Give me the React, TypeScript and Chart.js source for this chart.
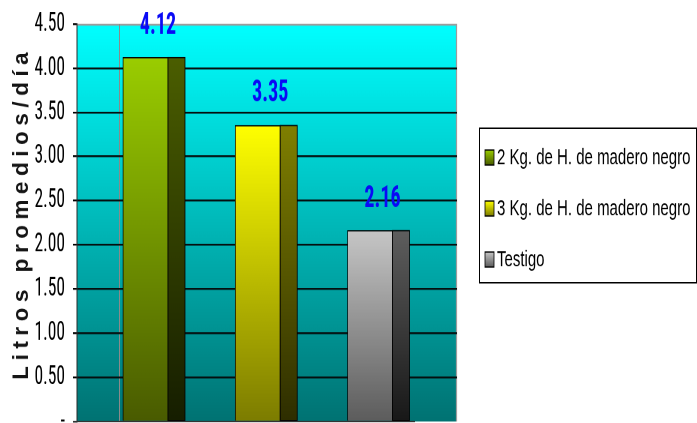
import React, { useEffect, useRef } from 'react';
import { Chart, registerables } from 'chart.js';

Chart.register(...registerables);

// ---- data ----
const seriesNames = ['2 Kg. de H. de madero negro', '3 Kg. de H. de madero negro', 'Testigo'];
const seriesValues = [4.12, 3.35, 2.16];
const seriesPositions = [0, 1, 2];
const yTickValues = [0, 0.5, 1, 1.5, 2, 2.5, 3, 3.5, 4, 4.5];
const yAxisTitle = 'Litros promedios/día';

// ---- styles ----
const frontTop = ['#9ACD00', '#FFFF00', '#C6C6C6'];
const frontBottom = ['#495B00', '#7C7C00', '#5C5C5C'];
const sideTop = ['#4B5E00', '#7F7F00', '#5E5E5E'];
const sideBottom = ['#161E00', '#2E2E00', '#181818'];

const WIDTH = 697;
const STRETCH = 1.5;
const HEIGHT = 282; // drawn height, stretched to 423 on screen
const SIDE = 17;
const DEPTH = 42;
const NARROW = "'Liberation Sans Narrow', 'Arial Narrow', 'Roboto Condensed', sans-serif";
const SANS = "'Liberation Sans', Arial, sans-serif";

function vGrad(ctx: CanvasRenderingContext2D, y0: number, y1: number, c0: string, c1: string) {
  if (!isFinite(y0) || !isFinite(y1)) return c0;
  const g = ctx.createLinearGradient(0, y0, 0, y1 === y0 ? y0 + 1 : y1);
  g.addColorStop(0, c0);
  g.addColorStop(1, c1);
  return g;
}

const wallPlugin = {
  id: 'wall',
  beforeDraw(chart: any) {
    const { ctx, chartArea } = chart;
    if (!chartArea) return;
    const { left, top, right, bottom } = chartArea;
    ctx.save();
    ctx.fillStyle = vGrad(ctx, top, bottom, '#00FFFF', '#007272');
    ctx.fillRect(left, top, right - left, bottom - top);
    ctx.strokeStyle = '#9c9c9c';
    ctx.lineWidth = 1.2;
    ctx.beginPath();
    ctx.moveTo(left, top + 0.5);
    ctx.lineTo(right - 0.5, top + 0.5);
    ctx.lineTo(right - 0.5, bottom);
    ctx.stroke();
    ctx.strokeStyle = '#8a8a8a';
    ctx.lineWidth = 1;
    ctx.beginPath();
    ctx.moveTo(left + DEPTH + 0.5, top);
    ctx.lineTo(left + DEPTH + 0.5, bottom);
    ctx.stroke();
    ctx.restore();
  },
  afterDraw(chart: any) {
    const { ctx, chartArea } = chart;
    if (!chartArea) return;
    const { left, right, bottom } = chartArea;
    ctx.save();
    ctx.strokeStyle = '#333';
    ctx.lineWidth = 1;
    ctx.beginPath();
    ctx.moveTo(left - 4, bottom);
    ctx.lineTo(right - DEPTH, bottom);
    ctx.stroke();
    ctx.restore();
  },
};

// y-axis title: condensed bold letters with wide spacing, as in the original
const titlePlugin = {
  id: 'yTitle',
  afterDraw(chart: any) {
    const { ctx, chartArea } = chart;
    if (!chartArea) return;
    const squeeze = 0.68;
    const gap = 3.7;
    ctx.save();
    ctx.font = `bold 22px ${SANS}`;
    ctx.fillStyle = '#151515';
    ctx.textBaseline = 'alphabetic';
    ctx.textAlign = 'left';
    const chars = Array.from(yAxisTitle);
    const widths = chars.map((ch) => ctx.measureText(ch).width * squeeze);
    const total = widths.reduce((a, b) => a + b, 0) + gap * (chars.length - 1);
    const cy = (chartArea.top + chartArea.bottom) / 2 - 4.5;
    ctx.translate(28, cy);
    ctx.rotate(-Math.PI / 2);
    let pos = -total / 2;
    chars.forEach((ch, k) => {
      ctx.save();
      ctx.translate(pos, 0);
      ctx.scale(squeeze, 1);
      ctx.fillText(ch, 0, 0);
      ctx.restore();
      pos += widths[k] + gap;
    });
    ctx.restore();
  },
};

const barSidePlugin = {
  id: 'barSide',
  afterDatasetsDraw(chart: any) {
    const { ctx } = chart;
    ctx.save();
    chart.data.datasets.forEach((ds: any, i: number) => {
      const meta = chart.getDatasetMeta(i);
      meta.data.forEach((el: any) => {
        const { x, y, base, width } = el.getProps(['x', 'y', 'base', 'width'], true);
        const x0 = x + width / 2;
        ctx.fillStyle = vGrad(ctx, y, base, sideTop[i], sideBottom[i]);
        ctx.fillRect(x0, y, SIDE, base - y);
        ctx.strokeStyle = '#000';
        ctx.lineWidth = 0.8;
        ctx.strokeRect(x0, y, SIDE, base - y);
        // value label
        ctx.fillStyle = '#0A0AF5';
        ctx.font = `bold 20px ${NARROW}`;
        ctx.textAlign = 'center';
        ctx.textBaseline = 'alphabetic';
        ctx.fillText(seriesValues[i].toFixed(2), x + 12.5, y - 16);
      });
    });
    ctx.restore();
  },
};

const legendPlugin = {
  id: 'boxLegend',
  afterDraw(chart: any) {
    const { ctx, chartArea } = chart;
    if (!chartArea) return;
    const bx = chartArea.right + 22;
    const by = 85.5;
    const bw = WIDTH - bx - 1;
    const bh = 103;
    ctx.save();
    ctx.fillStyle = '#fff';
    ctx.fillRect(bx, by, bw, bh);
    ctx.strokeStyle = '#000';
    ctx.lineWidth = 1;
    ctx.strokeRect(bx + 0.5, by, bw, bh);
    seriesNames.forEach((name, i) => {
      const cy = by + 19.5 + i * 34;
      ctx.fillStyle = vGrad(ctx, cy - 5, cy + 5, frontTop[i], frontBottom[i]);
      ctx.fillRect(bx + 6, cy - 5, 9, 10);
      ctx.strokeStyle = '#000';
      ctx.lineWidth = 0.8;
      ctx.strokeRect(bx + 6, cy - 5, 9, 10);
      ctx.fillStyle = '#000';
      ctx.font = `15px ${SANS}`;
      ctx.textAlign = 'left';
      ctx.textBaseline = 'middle';
      ctx.fillText(name, bx + 18, cy + 0.5);
    });
    ctx.restore();
  },
};

export default function App() {
  const ref = useRef<HTMLCanvasElement | null>(null);

  useEffect(() => {
    if (!ref.current) return;
    const chart = new Chart(ref.current, {
      type: 'bar',
      data: {
        datasets: seriesNames.map((name, i) => ({
          label: name,
          data: [{ x: seriesPositions[i], y: seriesValues[i] }],
          backgroundColor: (c: any) => {
            const ch = c.chart;
            const ys = ch.scales && ch.scales.y;
            if (!ys || !c.raw || !ch.chartArea) return frontTop[i];
            const top = ys.getPixelForValue(c.raw.y);
            const bot = ys.getPixelForValue(0);
            return vGrad(ch.ctx, top, bot, frontTop[i], frontBottom[i]);
          },
          borderColor: '#000',
          borderWidth: 0.8,
          barThickness: 45,
          grouped: false,
        })),
      },
      options: {
        responsive: false,
        devicePixelRatio: 2,
        animation: false,
        layout: { padding: { top: 16, right: 240, bottom: 1, left: 0 } },
        plugins: {
          legend: { display: false },
          tooltip: { enabled: false },
        },
        scales: {
          x: {
            type: 'linear',
            min: -0.61,
            max: 2.775,
            display: false,
            offset: false,
          },
          y: {
            min: 0,
            max: 4.5,
            afterBuildTicks: (s: any) => {
              s.ticks = yTickValues.map((v) => ({ value: v }));
            },
            afterFit: (s: any) => {
              s.width = 77;
              s.paddingTop = 0;
              s.paddingBottom = 0;
            },
            grid: {
              color: (c: any) =>
                c.tick && (c.tick.value === 4.5 || c.tick.value === 0) ? 'rgba(0,0,0,0)' : '#050f0f',
              lineWidth: 1.2,
              tickLength: 4,
              tickColor: '#000',
            },
            border: { display: true, color: '#2a2a2a', width: 1 },
            ticks: {
              padding: 8,
              color: '#000',
              font: { family: NARROW, size: 17.5 },
              callback: (v: any) => (Number(v) === 0 ? '-' : Number(v).toFixed(2)),
            },
            title: { display: false },
          },
        },
      },
      plugins: [wallPlugin, barSidePlugin, legendPlugin, titlePlugin],
    } as any);
    return () => chart.destroy();
  }, []);

  return (
    <div style={{ position: 'fixed', left: 0, top: 0, width: WIDTH, height: Math.round(HEIGHT * STRETCH) + 1, background: '#fff', overflow: 'hidden' }}>
      <canvas
        ref={ref}
        width={WIDTH}
        height={HEIGHT}
        style={{ display: 'block', width: `${WIDTH}px`, height: `${Math.round(HEIGHT * STRETCH)}px` }}
      />
    </div>
  );
}
